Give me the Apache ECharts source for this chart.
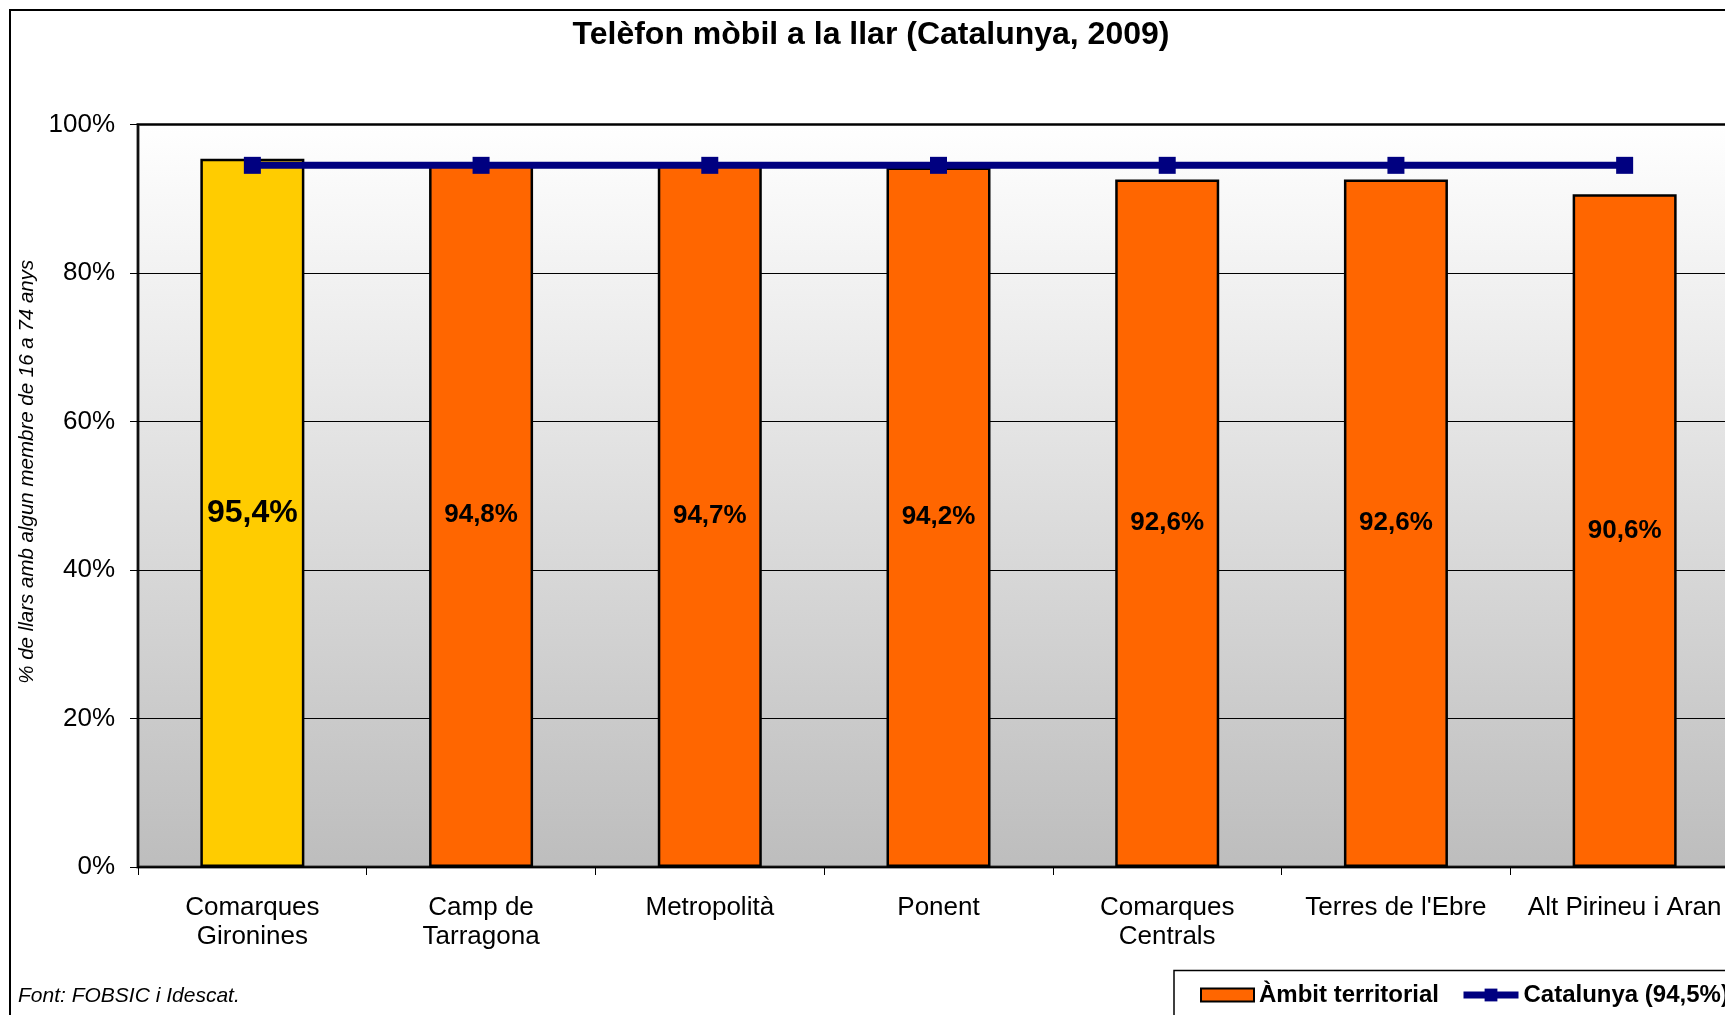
<!DOCTYPE html>
<html>
<head>
<meta charset="utf-8">
<script src="https://cdn.jsdelivr.net/npm/echarts@6/dist/echarts.min.js"></script>
<style>
html,body{margin:0;padding:0;background:#fff;}
#c{width:1725px;height:1015px;}
</style>
</head>
<body>
<div id="c"></div>
<script>
const categories = ['Comarques\nGironines','Camp de\nTarragona','Metropolità','Ponent','Comarques\nCentrals',"Terres de l'Ebre",'Alt Pirineu i Aran'];
const ambitValues = [95.4, 94.8, 94.7, 94.2, 92.6, 92.6, 90.6];
const catalunyaValues = [94.5, 94.5, 94.5, 94.5, 94.5, 94.5, 94.5];
const yTicks = [0, 20, 40, 60, 80, 100];
const highlightIndex = 0;

const FONT = 'Arial, "Liberation Sans", sans-serif';
const chart = echarts.init(document.getElementById('c'));

const barData = ambitValues.map((v, i) => ({
  value: v,
  itemStyle: { color: i === highlightIndex ? '#FFCC00' : '#FF6600' },
  label: { fontSize: i === highlightIndex ? 32 : 26 }
}));

const legendText = { fontFamily: FONT, fontSize: 24, fontWeight: 'bold', color: '#000' };

chart.setOption({
  animation: false,
  backgroundColor: '#ffffff',
  textStyle: { fontFamily: FONT, color: '#000' },
  title: {
    text: 'Telèfon mòbil a la llar (Catalunya, 2009)',
    left: 871, top: 19, padding: 0,
    textAlign: 'center',
    textStyle: { fontFamily: FONT, fontSize: 32, fontWeight: 'bold', color: '#000' }
  },
  graphic: [
    { type: 'rect', z: 100, silent: true, shape: { x: 10, y: 10, width: 1800, height: 1100 },
      style: { fill: 'none', stroke: '#000', lineWidth: 2 } },
    { type: 'rect', z: 100, silent: true, shape: { x: 1174, y: 970.5, width: 600, height: 100 },
      style: { fill: '#fff', stroke: '#000', lineWidth: 1.5 } },
    { type: 'text', z: 100, silent: true, x: 18, y: 996,
      style: { text: 'Font: FOBSIC i Idescat.', font: 'italic 21px ' + FONT, fill: '#000', verticalAlign: 'middle' } }
  ],
  legend: [
    {
      left: 1200, top: 983, padding: 0, z: 110,
      itemWidth: 53, itemHeight: 13,
      textStyle: legendText,
      data: [{ name: 'Àmbit territorial', icon: 'rect', itemStyle: { color: '#FF6600', borderColor: '#000', borderWidth: 2 } }]
    },
    {
      left: 1460, top: 983, padding: 0, z: 110,
      itemWidth: 55, itemHeight: 16,
      textStyle: legendText,
      data: [{ name: 'Catalunya (94,5%)', lineStyle: { width: 7, color: '#000080' }, itemStyle: { color: '#000080' } }]
    }
  ],
  grid: {
    left: 138, top: 124.5, width: 1601, height: 742.5,
    outerBoundsMode: 'none',
    containLabel: false,
    show: true,
    borderColor: '#404040', borderWidth: 3,
    backgroundColor: { type: 'linear', x: 0, y: 0, x2: 0, y2: 1,
      colorStops: [{ offset: 0, color: '#ffffff' }, { offset: 1, color: '#bdbdbd' }] }
  },
  xAxis: {
    type: 'category',
    data: categories,
    boundaryGap: true,
    axisLine: { show: true, lineStyle: { color: '#000', width: 1.5 } },
    axisTick: { show: true, length: 8, alignWithLabel: false, lineStyle: { color: '#000', width: 1 } },
    axisLabel: { margin: 26, fontFamily: FONT, fontSize: 26, lineHeight: 29, color: '#000', interval: 0, hideOverlap: false }
  },
  yAxis: {
    type: 'value', min: 0, max: 100, interval: 20,
    name: '% de llars amb algun membre de 16 a 74 anys',
    nameLocation: 'middle', nameGap: 88, nameRotate: 90,
    nameTextStyle: { fontFamily: FONT, fontSize: 20.5, fontStyle: 'italic', color: '#000', padding: [0, 0, 0, 48] },
    axisLine: { show: true, lineStyle: { color: '#000', width: 1.5 } },
    axisTick: { show: true, length: 8, lineStyle: { color: '#000' } },
    axisLabel: { margin: 23, fontFamily: FONT, fontSize: 26, color: '#000',
      formatter: v => (yTicks.indexOf(v) >= 0 ? v + '%' : '') },
    splitLine: { show: true, lineStyle: { color: '#000', width: 1 } }
  },
  series: [
    {
      name: 'Àmbit territorial',
      type: 'bar',
      data: barData,
      barWidth: 104,
      itemStyle: { color: '#FF6600', borderColor: '#000', borderWidth: 2.5 },
      label: {
        show: true, position: 'inside',
        fontFamily: FONT, fontWeight: 'bold', color: '#000',
        formatter: p => p.value.toFixed(1).replace('.', ',') + '%'
      },
      z: 2
    },
    {
      name: 'Catalunya (94,5%)',
      type: 'line',
      data: catalunyaValues,
      symbol: 'rect', symbolSize: 17,
      lineStyle: { color: '#000080', width: 7 },
      itemStyle: { color: '#000080' },
      z: 5
    }
  ]
});
</script>
</body>
</html>
